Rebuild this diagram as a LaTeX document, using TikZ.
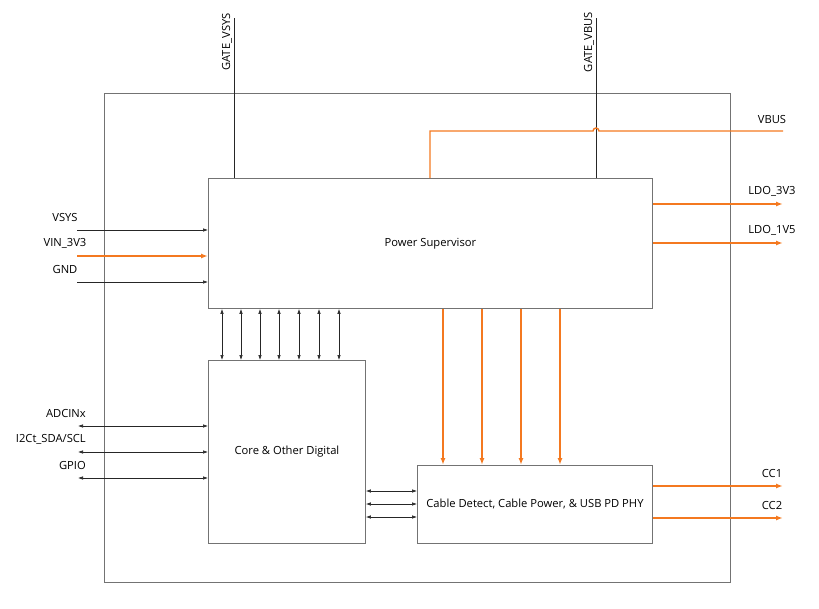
\documentclass[tikz,border=0pt]{standalone}
\usepackage{fontspec}
\setmainfont{Open Sans}
\usetikzlibrary{arrows.meta}
\definecolor{org}{RGB}{244,121,32}
\begin{document}
\begin{tikzpicture}[x=1pt,y=-1pt, font=\fontsize{11.2}{13}\selectfont,
 box/.style={draw=black!55, line width=0.9pt, inner sep=0, anchor=north west},
 blk/.style={draw=black!85, line width=0.6pt},
 bi/.style={blk, {Latex[length=5pt,width=3.5pt]}-{Latex[length=5pt,width=3.5pt]}},
 tox/.style={blk, -{Latex[length=5pt,width=3.5pt]}},
 orl/.style={draw=org, line width=1.4pt},
 ora/.style={orl, -{Latex[length=7pt,width=5pt]}},
 lbl/.style={inner sep=0}]
\useasboundingbox (0,0) rectangle (819,608);
\node[box, minimum width=626pt, minimum height=489pt] (outer) at (104,93) {};
\node[box, minimum width=444pt, minimum height=130pt] (ps) at (208,178) {};
\node[box, minimum width=157pt, minimum height=183pt] (core) at (208,360) {};
\node[box, minimum width=235pt, minimum height=78pt] (cable) at (417,465) {};
\node[lbl] at (ps.center) {Power Supervisor};
\node[lbl] at (core.center) {Core \& Other Digital};
\node[lbl] at (cable.center) {Cable Detect, Cable Power, \& USB PD PHY};

% gate lines
\coordinate (gvs) at (234,18);
\coordinate (gvb) at (596,18);
\draw[blk] (gvs) -- (gvs |- ps.north);
\draw[blk] (gvb) -- (gvb |- ps.north);
\node[lbl, rotate=90] at (227,42) {GATE\_VSYS};
\node[lbl, rotate=90] at (589,42) {GATE\_VBUS};

% VBUS
\coordinate (vbusend) at (783,131);
\coordinate (vbusx) at (430,0);
\draw[orl] (ps.north -| vbusx) |- (593,131) arc[start angle=180, end angle=0, radius=3pt] -- (vbusend);
\node[lbl] at (772,119) {VBUS};

% LDO outputs
\coordinate (ldo3) at (783,204);
\coordinate (ldo1) at (783,243);
\draw[ora] (ldo3 -| ps.east) -- (ldo3);
\draw[ora] (ldo1 -| ps.east) -- (ldo1);
\node[lbl] at (772,191) {LDO\_3V3};
\node[lbl] at (772,230) {LDO\_1V5};

% left inputs
\coordinate (vsys) at (77,230);
\coordinate (vin) at (77,256);
\coordinate (gnd) at (77,282);
\draw[tox] (vsys) -- (vsys -| ps.west);
\draw[ora] (vin) -- (vin -| ps.west);
\draw[tox] (gnd) -- (gnd -| ps.west);
\node[lbl] at (65,217) {VSYS};
\node[lbl] at (65,243) {VIN\_3V3};
\node[lbl] at (65,269) {GND};

% PS <-> core
\foreach \x in {222,241,260,279,299,319,339} {
  \coordinate (t) at (\x,0);
  \draw[bi] (ps.south -| t) -- (core.north -| t);
}

% core left
\coordinate (adc) at (78,426);
\coordinate (i2c) at (78,452);
\coordinate (gpio) at (78,478);
\draw[bi] (adc) -- (adc -| core.west);
\draw[bi] (i2c) -- (i2c -| core.west);
\draw[bi] (gpio) -- (gpio -| core.west);
\node[lbl, anchor=east] at (86,413) {ADCINx};
\node[lbl, anchor=east] at (86,439) {I2Ct\_SDA/SCL};
\node[lbl, anchor=east] at (86,465) {GPIO};

% PS -> cable orange
\foreach \x in {443,482,521,560} {
  \coordinate (t) at (\x,0);
  \draw[ora] (ps.south -| t) -- (cable.north -| t);
}

% core <-> cable
\foreach \y in {491,504,517} {
  \coordinate (t) at (0,\y);
  \draw[bi] (core.east |- t) -- (cable.west |- t);
}

% CC
\coordinate (cc1) at (783,486);
\coordinate (cc2) at (783,518);
\draw[ora] (cc1 -| cable.east) -- (cc1);
\draw[ora] (cc2 -| cable.east) -- (cc2);
\node[lbl] at (772,473) {CC1};
\node[lbl] at (772,505) {CC2};
\end{tikzpicture}
\end{document}
